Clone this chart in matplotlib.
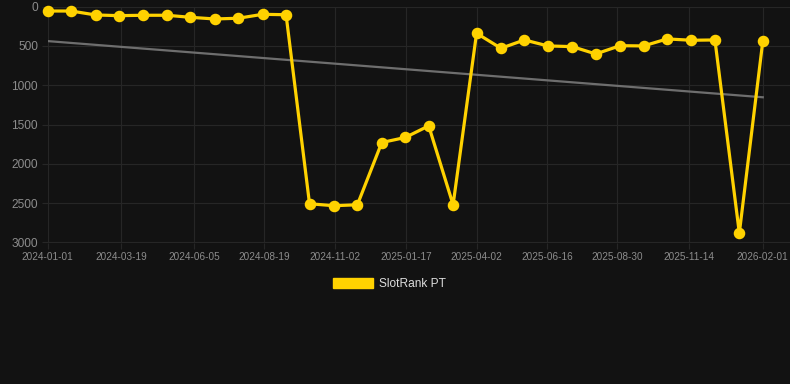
import matplotlib
matplotlib.use('Agg')
import matplotlib.pyplot as plt
import matplotlib.dates as mdates
import matplotlib.patches as mpatches
import numpy as np
import pandas as pd

# данные
dates = ['2024-01-01', '2024-01-26', '2024-02-21', '2024-03-17', '2024-04-12', '2024-05-07',
         '2024-06-01', '2024-06-27', '2024-07-22', '2024-08-17', '2024-09-11', '2024-10-06',
         '2024-11-01', '2024-11-26', '2024-12-22', '2025-01-16', '2025-02-10', '2025-03-08',
         '2025-04-02', '2025-04-28', '2025-05-23', '2025-06-17', '2025-07-13', '2025-08-07',
         '2025-09-02', '2025-09-27', '2025-10-22', '2025-11-17', '2025-12-12', '2026-01-07',
         '2026-02-01']
rank = [55, 55, 105, 114, 109, 109, 135, 156, 147, 97, 102, 2507,
        2532, 2520, 1728, 1664, 1516, 2520, 338, 529, 423, 499,
        508, 601, 496, 499, 410, 427, 423, 2880, 440]
tick_dates = ['2024-01-01', '2024-03-19', '2024-06-05', '2024-08-19', '2024-11-02', '2025-01-17',
              '2025-04-02', '2025-06-16', '2025-08-30', '2025-11-14', '2026-02-01']
y_ticks = [0, 500, 1000, 1500, 2000, 2500, 3000]
series_name = 'SlotRank PT'

bg = '#121212'
grid_c = '#262626'
label_c = '#8c8c8c'
yellow = '#FFD200'

plt.rcParams['font.family'] = ['Liberation Sans', 'DejaVu Sans']

fig = plt.figure(figsize=(7.9, 3.84), dpi=100, facecolor=bg)
ax = fig.add_axes([47.7 / 790, 1 - 242.5 / 384, (790 - 47.7) / 790, (242.5 - 6.7) / 384])
ax.set_facecolor(bg)

x = mdates.date2num(pd.to_datetime(dates))

# линия тренда - линейная регрессия
k, b = np.polyfit(x, rank, 1)
ax.plot(x, k * x + b, color='#6e6e6e', lw=1.6, zorder=2)

ax.plot(x, rank, color=yellow, lw=2.3, marker='o', markersize=7.3,
        markerfacecolor=yellow, markeredgecolor=yellow, clip_on=False, zorder=3)

x0 = mdates.date2num(pd.Timestamp('2024-01-01'))
ax.set_xlim(x0, x0 + 791)
ax.set_ylim(3000, 0)

ax.set_xticks(mdates.date2num(pd.to_datetime(tick_dates)))
ax.set_xticklabels(tick_dates)
ax.set_yticks(y_ticks)
ax.set_yticklabels([str(v) for v in y_ticks])

ax.grid(True, color=grid_c, lw=0.8)
ax.set_axisbelow(True)
for s in ax.spines.values():
    s.set_visible(False)
ax.tick_params(axis='x', colors=grid_c, labelcolor=label_c, labelsize=7.2, length=4, pad=3)
ax.tick_params(axis='y', colors=grid_c, labelcolor=label_c, labelsize=8.6, length=4, pad=3)

# легенда снизу
handle = mpatches.Patch(facecolor=yellow, edgecolor=yellow, label=series_name)
leg = fig.legend(handles=[handle], loc='center', bbox_to_anchor=(389.5 / 790, 1 - 284 / 384),
                 frameon=False, fontsize=8.6, handlelength=3.3, handleheight=0.95,
                 handletextpad=0.5, labelcolor='#dddddd')

fig.savefig('out.png', dpi=100, facecolor=bg)
